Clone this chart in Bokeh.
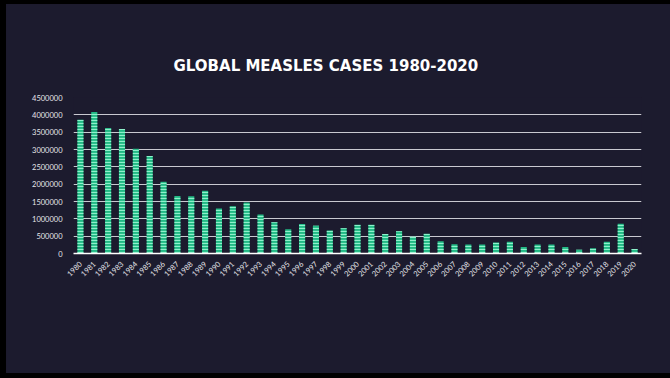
import math
from bokeh.plotting import figure
from bokeh.models import ColumnDataSource, FixedTicker, BasicTickFormatter, Range1d, Title, Label
from bokeh.embed import file_html
from bokeh.resources import INLINE

years = [str(y) for y in range(1980, 2021)]
cases = [3860000, 4080000, 3620000, 3590000, 3020000, 2810000, 2070000, 1660000, 1650000, 1810000,
         1300000, 1360000, 1470000, 1125000, 900000, 700000, 850000, 800000, 660000, 730000,
         830000, 830000, 560000, 640000, 480000, 570000, 350000, 270000, 260000, 260000,
         320000, 340000, 190000, 260000, 260000, 190000, 110000, 150000, 340000, 860000, 130000]
y_ticks = [0, 500000, 1000000, 1500000, 2000000, 2500000, 3000000, 3500000, 4000000, 4500000]
title_text = "GLOBAL MEASLES CASES 1980-2020"
page_no = "49"

BG = "#1c1b2e"
source = ColumnDataSource(dict(year=years, cases=cases))

p = figure(x_range=years, y_range=Range1d(0, 4500000), width=670, height=378,
           output_backend="svg", toolbar_location=None,
           min_border_left=67, min_border_right=35, min_border_top=93, min_border_bottom=129)
p.background_fill_color = BG
p.border_fill_color = BG
p.outline_line_color = None
p.styles = {"border-style": "solid", "border-color": "#000000",
            "border-width": "4px 0px 5px 6px", "box-sizing": "border-box",
            "overflow": "hidden", "outline": "none", "background-color": BG}

p.vbar(x="year", top="cases", width=0.44, source=source,
       fill_color="#22b985", line_color=None,
       hatch_pattern="horizontal_line", hatch_color="#8ff0cb", hatch_scale=3, hatch_weight=1.2)

p.x_range.range_padding = 0
p.xgrid.grid_line_color = None
p.ygrid.grid_line_color = "#c9c9d0"
p.ygrid.grid_line_width = 1.2
p.ygrid.ticker = FixedTicker(ticks=y_ticks)

p.yaxis.ticker = FixedTicker(ticks=y_ticks)
p.yaxis.formatter = BasicTickFormatter(use_scientific=False)
p.yaxis.axis_line_color = None
p.yaxis.major_tick_line_color = None
p.yaxis.minor_tick_line_color = None
p.yaxis.major_label_text_color = "#e6e6ea"
p.yaxis.major_label_text_font = "Lato"
p.yaxis.major_label_text_font_size = "7.5px"
p.yaxis.major_label_standoff = 5

p.xaxis.axis_line_color = "#ffffff"
p.xaxis.axis_line_width = 1.5
p.xaxis.major_tick_line_color = None
p.xaxis.minor_tick_line_color = None
p.xaxis.major_label_orientation = math.pi / 4
p.xaxis.major_label_text_color = "#e6e6ea"
p.xaxis.major_label_text_font = "Lato"
p.xaxis.major_label_text_font_size = "7.5px"
p.xaxis.major_label_standoff = 3

p.title = Title(text=title_text, align="left", offset=100, text_color="#ffffff", text_font="DejaVu Sans",
                text_font_style="bold", text_font_size="15px", standoff=46)

p.add_layout(Label(x=566, y=-113, x_units="screen", y_units="screen", text=page_no,
                   text_color="#8a8a9c", text_font_size="6px", text_font="Lato"))

open("out.html", "w").write(file_html(p, INLINE))
